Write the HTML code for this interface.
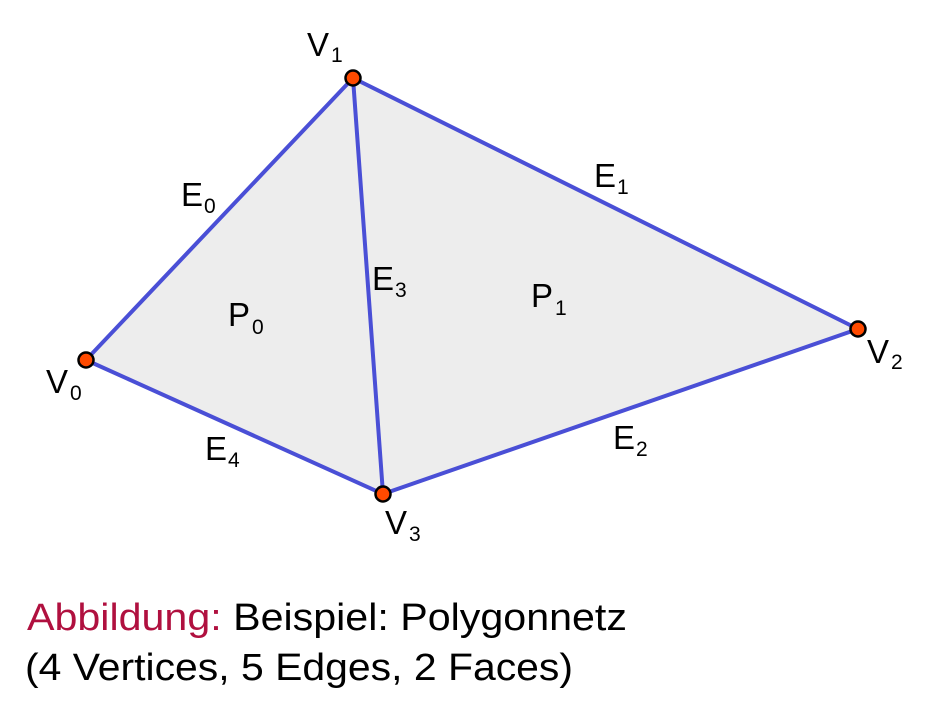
<!DOCTYPE html>
<html><head><meta charset="utf-8"><style>body{margin:0;background:#fff}svg{display:block}</style></head><body>
<svg width="937" height="708" viewBox="0 0 937 708" xmlns="http://www.w3.org/2000/svg" font-family="Liberation Sans, sans-serif">
<polygon points="86,360 353,78 858,329 383,494" fill="#ededed"/>
<g stroke="#4a4fd6" stroke-width="4" fill="none" stroke-linecap="round">
<line x1="86" y1="360" x2="353" y2="78"/>
<line x1="353" y1="78" x2="858" y2="329"/>
<line x1="858" y1="329" x2="383" y2="494"/>
<line x1="383" y1="494" x2="86" y2="360"/>
<line x1="353" y1="78" x2="383" y2="494"/>
</g>
<g fill="#ff4a00" stroke="#000" stroke-width="2.5">
<circle cx="86" cy="360" r="7.5"/><circle cx="353" cy="78" r="7.5"/><circle cx="858" cy="329" r="7.5"/><circle cx="383" cy="494" r="7.5"/>
</g>
<g font-size="33" fill="#000">
<text x="307" y="56">V<tspan font-size="21" dx="2" dy="6">1</tspan></text>
<text x="46" y="393">V<tspan font-size="21" dx="2" dy="7">0</tspan></text>
<text x="867" y="363">V<tspan font-size="21" dx="2" dy="6">2</tspan></text>
<text x="385" y="534">V<tspan font-size="21" dx="2" dy="7">3</tspan></text>
<text x="181" y="206">E<tspan font-size="21" dx="1" dy="7">0</tspan></text>
<text x="594" y="187">E<tspan font-size="21" dx="1" dy="7">1</tspan></text>
<text x="613" y="449">E<tspan font-size="21" dx="1" dy="7">2</tspan></text>
<text x="372" y="290">E<tspan font-size="21" dx="1" dy="7">3</tspan></text>
<text x="205" y="460">E<tspan font-size="21" dx="1" dy="7">4</tspan></text>
<text x="228" y="326">P<tspan font-size="21" dx="2" dy="8">0</tspan></text>
<text x="531" y="307">P<tspan font-size="21" dx="2" dy="8">1</tspan></text>
</g>
<text x="27" y="630" font-size="38" fill="#000" textLength="600" lengthAdjust="spacingAndGlyphs"><tspan fill="#b0103f">Abbildung:</tspan> Beispiel: Polygonnetz</text>
<text x="25" y="680" font-size="38" fill="#000" textLength="548" lengthAdjust="spacingAndGlyphs">(4 Vertices, 5 Edges, 2 Faces)</text>
</svg>
</body></html>
